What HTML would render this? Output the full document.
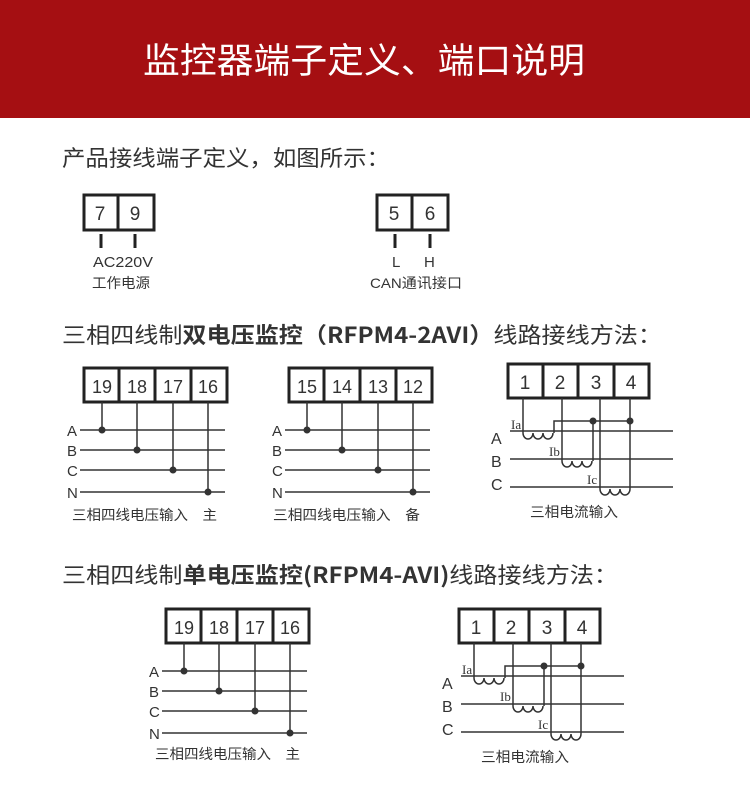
<!DOCTYPE html>
<html><head><meta charset="utf-8"><style>
html,body{margin:0;padding:0;background:#fff;}
svg{display:block;font-family:"Liberation Sans","Noto Sans CJK SC",sans-serif;}
</style></head><body>
<svg width="750" height="788" viewBox="0 0 750 788" xmlns="http://www.w3.org/2000/svg">
<rect x="0" y="0" width="750" height="118" fill="#a50f12"/>
<text x="143" y="73" textLength="442" lengthAdjust="spacingAndGlyphs" font-size="35" fill="#fff" font-family="Noto Sans CJK SC, sans-serif">监控器端子定义、端口说明</text>
<text x="62" y="166" textLength="328" lengthAdjust="spacingAndGlyphs" font-size="22" fill="#333" font-family="Noto Sans CJK SC, sans-serif">产品接线端子定义，如图所示：</text>
<g stroke="#222" fill="none">
<rect x="84" y="195" width="70" height="35" stroke-width="3"/><line x1="118" y1="195" x2="118" y2="230" stroke-width="3"/>
<line x1="101" y1="234" x2="101" y2="248" stroke-width="3"/><line x1="135" y1="234" x2="135" y2="248" stroke-width="3"/>
<rect x="377" y="195" width="71" height="35" stroke-width="3"/><line x1="412" y1="195" x2="412" y2="230" stroke-width="3"/>
<line x1="395" y1="234" x2="395" y2="248" stroke-width="3"/><line x1="430" y1="234" x2="430" y2="248" stroke-width="3"/>
</g>
<g font-size="19" fill="#333" text-anchor="middle">
<text x="100" y="220">7</text><text x="135" y="220">9</text>
<text x="394" y="220">5</text><text x="430" y="220">6</text>
</g>
<g font-size="15" fill="#333">
<text x="93" y="267" textLength="60" lengthAdjust="spacingAndGlyphs">AC220V</text><text x="92" y="288" font-size="14" textLength="58" lengthAdjust="spacingAndGlyphs">工作电源</text>
<text x="392" y="267">L</text><text x="424" y="267">H</text>
<text x="370" y="288" font-size="14" textLength="92" lengthAdjust="spacingAndGlyphs">CAN通讯接口</text>
</g>
<text x="62" y="343" textLength="600" lengthAdjust="spacingAndGlyphs" font-size="22" fill="#333" font-family="Noto Sans CJK SC, sans-serif">三相四线制<tspan font-weight="bold">双电压监控（RFPM4-2AVI）</tspan>线路接线方法：</text>
<text x="62" y="583" textLength="556" lengthAdjust="spacingAndGlyphs" font-size="22" fill="#333" font-family="Noto Sans CJK SC, sans-serif">三相四线制<tspan font-weight="bold">单电压监控(RFPM4-AVI)</tspan>线路接线方法：</text>

<defs>
<g id="volt">
<rect x="84" y="368" width="143" height="34" fill="none" stroke="#222" stroke-width="3"/>
<g stroke="#222" stroke-width="3"><line x1="119" y1="368" x2="119" y2="402"/><line x1="155" y1="368" x2="155" y2="402"/><line x1="191" y1="368" x2="191" y2="402"/></g>
<g stroke="#333" stroke-width="1.5">
<line x1="80" y1="430" x2="225" y2="430"/><line x1="80" y1="450" x2="225" y2="450"/>
<line x1="80" y1="470" x2="225" y2="470"/><line x1="80" y1="492" x2="225" y2="492"/>
<line x1="102" y1="402" x2="102" y2="430"/><line x1="137" y1="402" x2="137" y2="450"/>
<line x1="173" y1="402" x2="173" y2="470"/><line x1="208" y1="402" x2="208" y2="492"/>
</g>
<g fill="#333"><circle cx="102" cy="430" r="3.5"/><circle cx="137" cy="450" r="3.5"/><circle cx="173" cy="470" r="3.5"/><circle cx="208" cy="492" r="3.5"/></g>
<g font-size="15" fill="#333"><text x="67" y="436">A</text><text x="67" y="456">B</text><text x="67" y="476">C</text><text x="67" y="498">N</text></g>
</g>
<path id="coil" d="M0,0 a5,6 0 0 0 10,0 a5,6 0 0 0 10,0 a5,6 0 0 0 10,0" fill="none" stroke="#333" stroke-width="1.5"/>
<g id="curr">
<rect x="508" y="364" width="141" height="34" fill="none" stroke="#222" stroke-width="3"/>
<g stroke="#222" stroke-width="3"><line x1="543" y1="364" x2="543" y2="398"/><line x1="578" y1="364" x2="578" y2="398"/><line x1="614" y1="364" x2="614" y2="398"/></g>
<g stroke="#333" stroke-width="1.5" fill="none">
<line x1="510" y1="431" x2="673" y2="431"/><line x1="510" y1="459" x2="673" y2="459"/><line x1="510" y1="487" x2="673" y2="487"/>
<polyline points="523,398 523,433"/><polyline points="554,433 554,421 630,421"/>
<polyline points="562,398 562,461"/><polyline points="593,461 593,421"/>
<polyline points="600,398 600,489"/><polyline points="630,489 630,398"/>
</g>
<use href="#coil" x="523" y="433"/><use href="#coil" x="562" y="461"/><use href="#coil" x="600" y="489"/>
<g fill="#333"><circle cx="593" cy="421" r="3.5"/><circle cx="630" cy="421" r="3.5"/></g>
<g font-size="19" fill="#333" text-anchor="middle"><text x="525" y="389">1</text><text x="560" y="389">2</text><text x="596" y="389">3</text><text x="631" y="389">4</text></g>
<g font-size="16" fill="#333"><text x="491" y="444">A</text><text x="491" y="467">B</text><text x="491" y="490">C</text></g>
<g font-size="13" fill="#333" font-family="Liberation Serif, serif"><text x="511" y="429">Ia</text><text x="549" y="456">Ib</text><text x="587" y="484">Ic</text></g>
<text x="530" y="517" font-size="14" fill="#333" textLength="88" lengthAdjust="spacingAndGlyphs">三相电流输入</text>
</g>
</defs>

<use href="#volt"/>
<g font-size="18" fill="#333" text-anchor="middle"><text x="102" y="393">19</text><text x="137" y="393">18</text><text x="173" y="393">17</text><text x="208" y="393">16</text></g>
<text x="72" y="520" font-size="14" fill="#333" textLength="145" lengthAdjust="spacingAndGlyphs">三相四线电压输入　主</text>

<use href="#volt" x="205"/>
<g font-size="18" fill="#333" text-anchor="middle"><text x="307" y="393">15</text><text x="342" y="393">14</text><text x="378" y="393">13</text><text x="413" y="393">12</text></g>
<text x="273" y="520" font-size="14" fill="#333" textLength="147" lengthAdjust="spacingAndGlyphs">三相四线电压输入　备</text>

<use href="#curr"/>

<use href="#volt" x="82" y="241"/>
<g font-size="18" fill="#333" text-anchor="middle"><text x="184" y="634">19</text><text x="219" y="634">18</text><text x="255" y="634">17</text><text x="290" y="634">16</text></g>
<text x="155" y="759" font-size="14" fill="#333" textLength="145" lengthAdjust="spacingAndGlyphs">三相四线电压输入　主</text>

<use href="#curr" x="-49" y="245"/>
</svg>
</body></html>
